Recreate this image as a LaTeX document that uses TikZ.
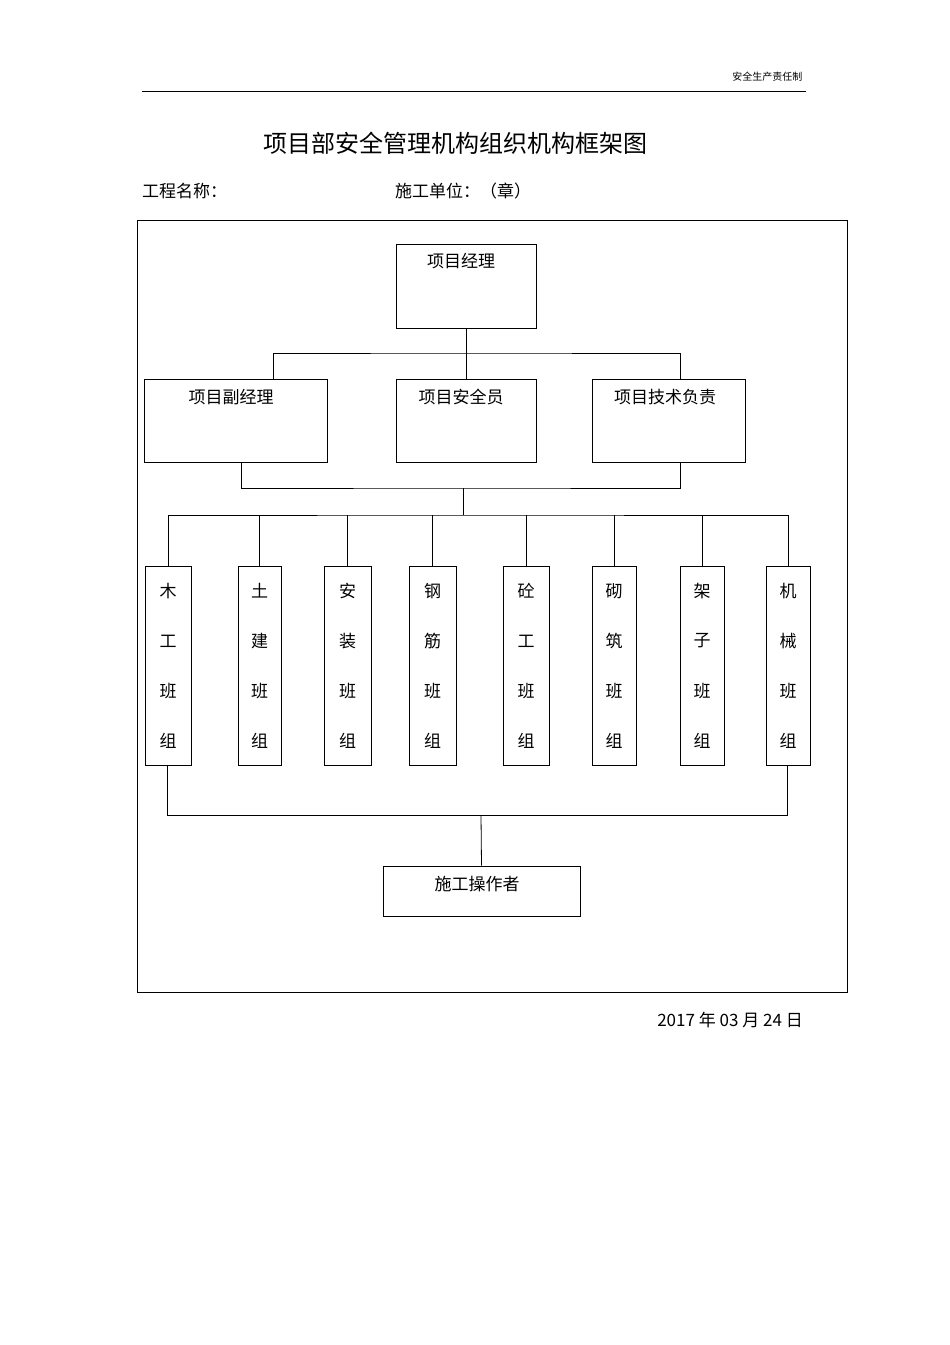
\documentclass[tikz,border=0pt]{standalone}
\usepackage{fontspec}
\newfontfamily\cjk{Noto Sans CJK SC}
\usetikzlibrary{calc}
\begin{document}
\begin{tikzpicture}[x=1pt,y=-1pt,
  bx/.style={draw,line width=0.8pt,inner sep=0pt},
  tx/.style={font=\cjk\fontsize{17}{17}\selectfont,inner sep=0pt},
  ln/.style={line width=0.8pt}]
\useasboundingbox (0,0) rectangle (950,1345);
\node[font=\cjk\fontsize{10}{10}\selectfont,anchor=east] (hdr) at (806,77) {安全生产责任制};
\draw[line width=0.6pt] (142,91) -- (806,91);
\node[font=\cjk\fontsize{24}{24}\selectfont] (title) at (455,143) {项目部安全管理机构组织机构框架图};
\node[tx,anchor=west] (pn) at (142,191) {工程名称：};
\node[tx,anchor=west] (un) at (395,191) {施工单位：（章）};
\draw[ln] (137,220) rectangle (847,992);
% top boxes
\node[bx,minimum width=140,minimum height=84] (pm) at (466,286) {};
\node[tx] at (461,261) {项目经理};
\node[bx,minimum width=183,minimum height=83] (dm) at (235.5,420.5) {};
\node[tx] at (231,397) {项目副经理};
\node[bx,minimum width=140,minimum height=83] (so) at (466,420.5) {};
\node[tx] at (461,397) {项目安全员};
\node[bx,minimum width=153,minimum height=83] (te) at (668.5,420.5) {};
\node[tx] at (665,397) {项目技术负责};
\coordinate (j1) at (466,353);
\draw[ln] (pm.south) -- (j1);
\draw[ln] (273,379) |- (j1) -| (680,379);
\draw[ln] (so.north) -- (j1);
\coordinate (j2) at (463,488);
\draw[ln] (241,462) |- (j2) -| (680,462);
\coordinate (j3) at (463,515);
\draw[ln] (j2) -- (j3);
% teams
\foreach \n/\xa/\xb/\a/\b in {t1/145/191/木/工,t2/238/281/土/建,t3/324/371/安/装,t4/409/456/钢/筋,t5/503/549/砼/工,t6/592/636/砌/筑,t7/680/724/架/子,t8/766/810/机/械}{
  \node[bx,minimum width=\xb-\xa,minimum height=199] (\n) at ({(\xa+\xb)/2},665.5) {};
  \node[tx] at ({(\xa+\xb)/2},591) {\a};
  \node[tx] at ({(\xa+\xb)/2},641) {\b};
  \node[tx] at ({(\xa+\xb)/2},691) {班};
  \node[tx] at ({(\xa+\xb)/2},741) {组};
}
\draw[ln] (t1.north) |- (j3) -| (t8.north);
\foreach \n in {t2,t3,t4,t5,t6,t7}{\draw[ln] (\n.north) -- (\n.north|-j3);}
% bottom
\coordinate (j4) at (481,815);
\draw[ln] (167,765) |- (j4) -| (787,765);
\node[bx,minimum width=197,minimum height=50] (op) at (481.5,891) {};
\node[tx] at (477,884) {施工操作者};
\draw[ln] (j4) -- (op.north);
\node[tx,anchor=east] (date) at (803,1020) {2017 年 03 月 24 日};
\end{tikzpicture}
\end{document}
